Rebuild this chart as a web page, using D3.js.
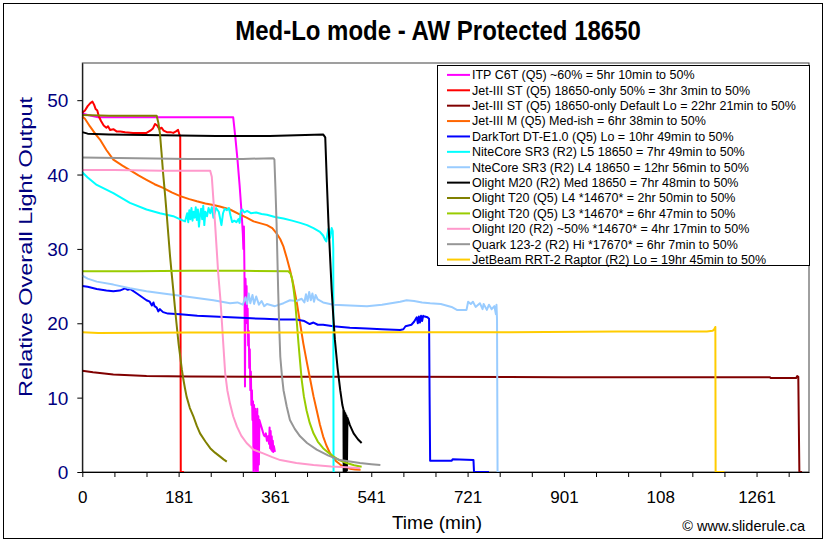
<!DOCTYPE html>
<html>
<head>
<meta charset="utf-8">
<script src="https://cdn.jsdelivr.net/npm/d3@7"></script>
<style>
  html, body { margin: 0; padding: 0; background: #fff; }
  svg { display: block; }
  text { font-family: "Liberation Sans", Arial, sans-serif; }
</style>
</head>
<body>
<svg id="chart" width="829" height="543"></svg>
<script>
// ---------------- DATA ----------------
const chartTitle = "Med-Lo mode - AW Protected 18650";
const xTitle = "Time (min)";
const yTitle = "Relative Overall Light Output";
const credit = "\u00A9 www.sliderule.ca";

const xTickValues = [0, 180, 360, 540, 720, 900, 1080, 1260];
const xTickLabels = ["0", "181", "361", "541", "721", "901", "108", "1261"];
const yTickValues = [0, 10, 20, 30, 40, 50];

const seriesNames = [
  "ITP C6T (Q5) ~60% = 5hr 10min to 50%",
  "Jet-III ST (Q5) 18650-only 50% = 3hr 3min to 50%",
  "Jet-III ST (Q5) 18650-only Default Lo = 22hr 21min to 50%",
  "Jet-III M (Q5) Med-ish = 6hr 38min to 50%",
  "DarkTort DT-E1.0 (Q5) Lo = 10hr 49min to 50%",
  "NiteCore SR3 (R2) L5 18650 = 7hr 49min to 50%",
  "NteCore SR3 (R2) L4 18650 = 12hr 56min to 50%",
  "Olight M20 (R2) Med 18650 = 7hr 48min to 50%",
  "Olight T20 (Q5) L4 *14670* = 2hr 50min to 50%",
  "Olight T20 (Q5) L3 *14670* = 6hr 47min to 50%",
  "Olight I20 (R2) ~50% *14670* = 4hr 17min to 50%",
  "Quark 123-2 (R2) Hi *17670* = 6hr 7min to 50%",
  "JetBeam RRT-2 Raptor (R2) Lo = 19hr 45min to 50%"
];
const seriesColors = ["#FF00FF","#FF0000","#800000","#FF6600","#0000FF","#00FFFF","#99CCFF",
  "#000000","#808000","#99CC00","#FF99CC","#969696","#FFCC00"];

// [minute, relative output]
const itpC6T = [[0,48.2],[10,48.0],[30,47.7],[150,47.7],[282,47.7],[286,45],[290,42],[294,38.5],[298,34.5],
  [300,32],[301,30],[302,33],[303,27],[304,11.5],[305,26],[306,23],[307,25],[308,20],[309,22],[310,17],[311,19],
  [312,14],[313,16.5],[314,11],[315,13.5],[316,9],[317,11],[318,7],[319,9.5],[320,0],[321,9],[322,0.5],[323,8.5],
  [324,0],[325,8],[326,0],[327,8.5],[328,0],[329,7.5],[330,1],[331,7],[333,6.5],[335,6],[337,5.5],[339,5],
  [341,4.8],[343,5.2],[345,4.2],[347,4.8],[349,3.8],[350,6],[351,3.2],[352,5.5],[353,3],[354,4.8],[355,2.8],
  [356,4.2],[357,2.7],[358,3.5],[360,2.7]];
const jet3St50 = [[0,48.3],[5,48.6],[10,49.2],[15,49.6],[19,49.8],[22,49.4],[25,48.8],[28,48.6],[31,47.8],[35,47.2],
  [40,46.6],[45,46.3],[48,46.5],[52,46.0],[58,46.1],[64,45.8],[71,45.8],[80,45.7],[95,45.6],[110,45.6],[120,45.6],
  [127,45.9],[132,46.2],[136,46.8],[140,46.6],[144,46.1],[148,46.3],[152,45.9],[158,45.7],[165,45.7],[170,45.6],
  [175,45.8],[179,46.0],[181,45.5],[183,45.1],[184,0],[190,0]];
const jet3StLo = [[0,13.6],[20,13.4],[58,13.1],[120,12.9],[200,12.85],[370,12.8],[600,12.8],[900,12.75],[1285,12.75],
  [1286,12.65],[1334,12.65],[1336,12.9],[1338,12.8],[1339,6.3],[1340,0],[1345,0]];
const jet3M = [[0,47.8],[5,47.5],[14,46.5],[25,45.4],[33,44.7],[45,43.3],[58,42.0],[75,41.2],[89,40.6],[105,39.9],
  [120,39.3],[135,38.7],[151,38.2],[167,37.6],[183,37.1],[200,36.7],[214,36.4],[230,36.1],[245,35.9],[257,35.7],
  [276,35.3],[295,34.6],[307,34.2],[320,33.7],[335,33.4],[345,33.2],[355,32.8],[363,32.1],[370,31.3],[376,30.3],
  [382,28.8],[388,27.2],[395,25.0],[401,22.7],[407,20.0],[413,17.3],[420,14.6],[426,12.4],[432,10.2],[438,8.3],
  [444,6.4],[450,4.8],[456,3.6],[463,2.5],[469,1.9],[475,1.4],[482,1.0],[488,0.7],[500,0.45],[510,0.35],[520,0.3]];
const darkTort = [[0,25.0],[10,24.9],[27,24.6],[45,24.4],[58,24.3],[70,24.4],[80,24.7],[85,24.5],[90,24.6],[102,24.0],
  [110,23.6],[120,23.1],[126,22.9],[130,22.4],[133,22.8],[135,22.3],[139,22.1],[142,21.6],[145,21.9],[151,21.5],
  [160,21.3],[183,21.2],[215,21.0],[245,20.9],[276,20.8],[307,20.7],[340,20.6],[370,20.5],[400,20.5],[415,20.3],
  [425,19.9],[432,20.1],[440,19.8],[450,19.8],[469,19.6],[500,19.4],[532,19.3],[560,19.2],[594,19.1],[600,19.2],
  [604,19.6],[615,19.8],[620,20.2],[625,20.8],[627,20.0],[629,20.9],[631,20.1],[633,21.0],[635,20.3],[637,21.0],
  [640,20.9],[645,20.8],[648,20.6],[649,10.1],[650,1.5],[690,1.5],[692,1.7],[731,1.6],[732,0],[760,0]];
const niteCoreL5 = [[0,40.3],[10,39.6],[27,38.6],[58,37.5],[89,36.2],[120,35.3],[145,34.8],[170,34.4],[185,33.9],
  [192,33.7],[196,34.8],[198,33.6],[200,35.2],[202,34.0],[204,35.5],[206,33.8],[208,35.0],[210,34.2],[212,35.6],
  [214,33.9],[216,35.3],[218,33.0],[220,34.6],[222,35.4],[224,34.0],[226,35.8],[228,33.2],[230,35.0],[233,34.4],
  [236,35.5],[239,34.8],[242,35.6],[245,34.2],[250,35.5],[255,35.0],[260,33.2],[263,34.8],[266,35.4],[270,35.2],
  [274,35.5],[277,34.5],[280,33.6],[284,33.8],[288,33.6],[292,34.0],[294,33.5],[296,35.0],[299,35.3],[303,34.9],
  [308,35.1],[315,34.8],[325,34.9],[335,34.7],[345,34.6],[360,34.3],[376,34.1],[392,33.8],[407,33.5],[420,33.2],
  [432,32.8],[444,32.3],[450,31.8],[454,31.2],[456,31.0],[458,32.0],[460,32.7],[463,31.5],[466,32.8],[468,32.4],
  [469,30],[469.5,0],[472,0]];
const niteCoreL4 = [[0,26.4],[10,26.0],[27,25.6],[58,25.2],[89,24.7],[120,24.3],[151,24.0],[183,23.7],[214,23.4],
  [245,23.1],[276,22.7],[290,22.8],[300,22.5],[305,23.5],[308,22.6],[311,24.0],[314,22.7],[318,23.8],[321,22.6],
  [325,23.6],[330,22.5],[335,23.0],[340,22.3],[345,22.6],[360,22.3],[376,22.7],[388,23.1],[400,23.0],[410,23.3],
  [415,22.8],[418,23.9],[421,23.0],[424,24.2],[427,23.1],[430,24.0],[433,22.9],[436,23.8],[440,23.2],[450,22.8],
  [469,22.5],[500,22.4],[532,22.3],[560,22.5],[594,22.9],[606,23.1],[620,23.0],[635,22.8],[650,22.7],[670,22.6],
  [690,22.2],[700,21.8],[718,21.8],[721,22.9],[726,22.6],[730,22.9],[735,22.2],[743,22.7],[748,21.9],[750,22.6],
  [756,21.8],[760,22.5],[765,21.9],[770,22.3],[773,21.2],[774,22.5],[775,20.5],[776,0],[780,0]];
const olightM20 = [[0,45.7],[10,45.5],[50,45.4],[150,45.3],[250,45.2],[350,45.2],[450,45.4],[454,45.0],[457,39],
  [460,33.5],[463,29],[466,24.5],[469,21],[472,17.8],[477,14],[482,11.0],[486,9.0],[488,8.4],[488.5,0],[489.5,8.2],
  [490.5,0],[491.5,7.9],[492.5,0],[493.5,7.6],[494.5,0.2],[495.5,7.3],[500,6.3],[507,5.2],[515,4.4],[522,3.9]];
const olightT20L4 = [[0,48.0],[50,47.9],[100,47.9],[139,47.9],[142,47.0],[145,45.6],[148,43.0],[151,40.2],[155,37.0],
  [158,34.4],[161,31.7],[164,29.0],[167,26.7],[170,24.5],[173,22.2],[176,20.0],[180,17.2],[183,15.5],[186,13.8],
  [189,12.4],[192,11.2],[195,10.1],[201,8.6],[208,7.4],[214,6.2],[220,5.2],[230,4.1],[239,3.2],[248,2.6],[257,2.1],
  [264,1.7],[270,1.4]];
const olightT20L3 = [[0,27.0],[100,27.0],[200,27.05],[300,27.05],[385,27.0],[389,26.7],[392,26.0],[395,24.5],
  [398,22.7],[401,20.0],[404,17.3],[407,14.8],[410,12.4],[414,10.2],[419,8.3],[425,6.6],[432,5.2],[440,4.1],
  [450,3.2],[460,2.6],[469,2.1],[480,1.6],[494,1.2],[508,0.9],[522,0.7]];
const olightI20 = [[0,40.6],[60,40.6],[150,40.5],[239,40.5],[242,39.7],[245,36.6],[248,33.5],[251,30.1],[254,26.7],
  [258,23.3],[261,20.0],[264,16.6],[267,13.3],[271,11.0],[276,9.2],[282,7.5],[289,6.1],[297,4.9],[307,3.9],
  [320,3.0],[338,2.5],[355,2.0],[370,1.6],[400,1.2],[432,0.94],[465,0.75],[494,0.63],[519,0.5]];
const quark123 = [[0,42.3],[100,42.2],[200,42.1],[300,42.1],[357,42.2],[359,42.0],[361,38],[363,33.5],[366,24.5],
  [368,19.5],[370,15.5],[373,13.0],[376,11.0],[382,8.8],[388,7.0],[397,5.8],[407,4.8],[420,3.9],[438,3.0],
  [460,2.2],[482,1.6],[500,1.4],[519,1.2],[540,1.05],[557,0.94]];
const jetBeamRRT2 = [[0,18.8],[30,18.7],[200,18.75],[400,18.75],[600,18.8],[800,18.8],[1000,18.9],[1167,18.9],
  [1178,19.0],[1181,19.2],[1183,19.5],[1183.5,0],[1200,0]];

const seriesData = [itpC6T, jet3St50, jet3StLo, jet3M, darkTort, niteCoreL5, niteCoreL4, olightM20,
  olightT20L4, olightT20L3, olightI20, quark123, jetBeamRRT2];

// ---------------- DRAW ----------------
const svg = d3.select("#chart");
const W = 829, H = 543;
const plot = { left: 82.3, right: 809, top: 63, bottom: 472 };

svg.append("rect").attr("x", 0).attr("y", 0).attr("width", W).attr("height", H).attr("fill", "#fff");
svg.append("rect").attr("x", 3.5).attr("y", 3.5).attr("width", 819).attr("height", 535)
  .attr("fill", "#fff").attr("stroke", "#000").attr("stroke-width", 1);

const x = d3.scaleLinear().domain([0, 1358]).range([plot.left, plot.right]);
const y = d3.scaleLinear().domain([0, 55]).range([plot.bottom, plot.top]);

// plot area border
svg.append("rect").attr("x", plot.left).attr("y", plot.top)
  .attr("width", plot.right - plot.left).attr("height", plot.bottom - plot.top)
  .attr("fill", "#fff").attr("stroke", "#404040").attr("stroke-width", 1);

// series
const line = d3.line().x(d => x(d[0])).y(d => y(d[1]));
const gSeries = svg.append("g");
seriesData.forEach((data, i) => {
  gSeries.append("path").datum(data).attr("d", line)
    .attr("fill", "none").attr("stroke", seriesColors[i]).attr("stroke-width", 2)
    .attr("stroke-linejoin", "round");
});

// x axis
const xAxis = d3.axisBottom(x)
  .tickValues(d3.range(0, 1321, 60))
  .tickSize(5).tickSizeOuter(0)
  .tickFormat(d => { const k = xTickValues.indexOf(d); return k >= 0 ? xTickLabels[k] : ""; });
const gx = svg.append("g").attr("transform", `translate(0,${plot.bottom})`).call(xAxis);
gx.select(".domain").attr("stroke", "#000");
gx.selectAll(".tick line").attr("stroke", "#000");
gx.selectAll(".tick text").attr("font-size", 17).attr("fill", "#000")
  .attr("font-family", "Liberation Sans, Arial, sans-serif").attr("dy", 0).attr("y", 31);

// y axis
const yAxis = d3.axisLeft(y).tickValues(yTickValues).tickSize(5).tickSizeOuter(0).tickFormat(d3.format("d"));
const gy = svg.append("g").attr("transform", `translate(${plot.left},0)`).call(yAxis);
gy.select(".domain").attr("stroke", "#000");
gy.selectAll(".tick line").attr("stroke", "#000");
gy.selectAll(".tick text").attr("font-size", 19).attr("fill", "#000080")
  .attr("font-family", "Liberation Sans, Arial, sans-serif").attr("x", -14).attr("dy", "0.35em");

// titles
svg.append("text").attr("transform", "translate(438,40) scale(1,1.12)").attr("text-anchor", "middle")
  .attr("font-size", 24).attr("font-weight", "bold").attr("fill", "#000").text(chartTitle);
svg.append("text").attr("x", 437).attr("y", 529).attr("text-anchor", "middle")
  .attr("font-size", 19).attr("fill", "#000").text(xTitle);
svg.append("text").attr("transform", "translate(32,247) rotate(-90)").attr("text-anchor", "middle")
  .attr("font-size", 19).attr("fill", "#000080")
  .attr("textLength", 300).attr("lengthAdjust", "spacingAndGlyphs").text(yTitle);
svg.append("text").attr("x", 805).attr("y", 531).attr("text-anchor", "end")
  .attr("font-size", 14.5).attr("fill", "#000").text(credit);

// legend
const leg = { x: 437, y: 65, w: 372, h: 200 };
const gl = svg.append("g");
gl.append("rect").attr("x", leg.x + 0.5).attr("y", leg.y + 0.5).attr("width", leg.w).attr("height", leg.h)
  .attr("fill", "#fff").attr("stroke", "#000").attr("stroke-width", 1);
seriesNames.forEach((name, i) => {
  const cy = 74.9 + i * 15.39;
  gl.append("line").attr("x1", 447).attr("x2", 470).attr("y1", cy).attr("y2", cy)
    .attr("stroke", seriesColors[i]).attr("stroke-width", 2);
  gl.append("text").attr("x", 472).attr("y", cy).attr("dy", "0.35em")
    .attr("font-size", 12.5).attr("fill", "#000").text(name);
});
</script>
</body>
</html>
